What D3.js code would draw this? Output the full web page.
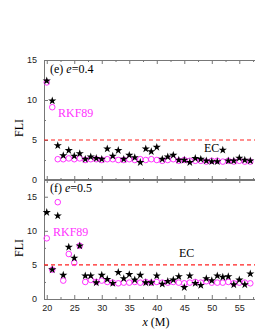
<!DOCTYPE html>
<html>
<head>
<meta charset="utf-8">
<script src="https://cdn.jsdelivr.net/npm/d3@7"></script>
<style>
  body { margin: 0; background: #fff; }
  .axis path, .axis line { stroke: #777; }
  .axis text { font-family: "Liberation Sans", Arial, sans-serif; font-size: 9px; fill: #222; }
  .lbl { font-family: "Liberation Serif", "Times New Roman", serif; }
</style>
</head>
<body>
<svg id="chart"></svg>
<script>
// mass values (x axis), 20..57
var xs = d3.range(20, 58);

// panel (e) e=0.4
var ecE = [12.4, 9.9, 4.3, 3.05, 3.7, 3.0, 3.3, 2.6, 2.9, 2.7, 2.6, 3.9, 3.0, 3.7, 2.6,
  3.1, 2.8, 2.2, 3.9, 3.55, 4.1, 2.6, 2.9, 3.1, 2.5, 2.5, 2.2, 2.7, 2.6, 2.4, 2.3,
  2.3, 3.75, 2.4, 2.4, 2.75, 2.5, 2.4];
var rkfE = [12.2, 9.1, 2.6, 2.6, 2.7, 2.6, 2.7, 2.5, 2.6, 2.6, 2.5, 2.6, 2.6, 2.5, 2.5,
  2.6, 2.5, 2.6, 2.5, 2.6, 2.5, 2.4, 2.5, 2.6, 2.4, 2.5, 2.4, 2.4, 2.4, 2.3, 2.4,
  2.4, 2.3, 2.4, 2.3, 2.4, 2.3, 2.3];

// panel (f) e=0.5
var ecF = [12.7, 4.3, 12.2, 3.5, 7.6, 6.0, 7.8, 3.4, 3.4, 2.4, 3.5, 2.9, 2.3, 3.9, 3.0,
  3.6, 2.8, 3.5, 2.4, 2.4, 3.4, 2.2, 2.6, 2.8, 3.3, 1.7, 3.4, 2.3, 2.0, 3.0, 2.7,
  3.4, 3.2, 3.3, 2.1, 2.8, 2.1, 3.7];
var rkfF = [8.9, 4.3, 14.2, 2.7, 6.6, 5.3, 7.8, 2.5, 2.8, 2.5, 2.7, 2.5, 2.4, 2.3, 2.4,
  2.4, 2.5, 2.4, 2.5, 2.4, 2.5, 2.4, 2.4, 2.5, 2.4, 2.3, 2.4, 2.5, 2.4, 2.6, 2.4,
  2.4, 2.4, 2.5, 2.3, 2.4, 2.4, 2.3];

var xTicks = [20, 25, 30, 35, 40, 45, 50, 55];
var ecLevel = 5;

var w = 255, h = 330;
var svg = d3.select("#chart").attr("width", w).attr("height", h);

var xScale = d3.scaleLinear().domain([19.5, 58]).range([44, 255.8]);

var panels = [
  {tag: "(e) ", e: "0.4", ec: ecE, rkf: rkfE, top: 60, bottom: 180, ymax: 15,
   yTicks: [0, 5, 10, 15], tagY: 73, rkfPos: [58, 117], ecPos: [204, 152], fliY: 128},
  {tag: "(f) ", e: "0.5", ec: ecF, rkf: rkfF, top: 179, bottom: 299, ymax: 17.6,
   yTicks: [0, 5, 10, 15], tagY: 192, rkfPos: [53, 236], ecPos: [179, 257], fliY: 248}
];

panels.forEach(function(p, i) {
  var yScale = d3.scaleLinear().domain([0, p.ymax]).range([p.bottom, p.top]);
  var g = svg.append("g");

  // minor / major ticks, all pointing inward
  var minorX = d3.range(20, 58.1, 2.5).filter(function(v) { return v % 5 != 0; });
  var minorY = d3.range(2.5, p.ymax, 5);

  g.append("g").attr("class", "axis")
    .attr("transform", "translate(0," + p.bottom + ")")
    .call(d3.axisBottom(xScale).tickValues(xTicks).tickSizeInner(-4).tickSizeOuter(0).tickPadding(6)
      .tickFormat(i == 1 ? d3.format("d") : ""));
  g.append("g").attr("class", "axis")
    .attr("transform", "translate(0," + p.bottom + ")")
    .call(d3.axisBottom(xScale).tickValues(minorX).tickSize(-2).tickFormat(""))
    .select(".domain").remove();
  g.append("g").attr("class", "axis")
    .attr("transform", "translate(0," + p.top + ")")
    .call(d3.axisTop(xScale).tickValues(xTicks).tickSizeInner(-4).tickSizeOuter(0).tickFormat(""));
  g.append("g").attr("class", "axis")
    .attr("transform", "translate(0," + p.top + ")")
    .call(d3.axisTop(xScale).tickValues(minorX).tickSize(-2).tickFormat(""))
    .select(".domain").remove();

  g.append("g").attr("class", "axis")
    .attr("transform", "translate(44,0)")
    .call(d3.axisLeft(yScale).tickValues(p.yTicks).tickSizeInner(-4).tickSizeOuter(0).tickPadding(7));
  g.append("g").attr("class", "axis")
    .attr("transform", "translate(44,0)")
    .call(d3.axisLeft(yScale).tickValues(minorY).tickSize(-2).tickFormat(""))
    .select(".domain").remove();

  // EC threshold
  g.append("line")
    .attr("x1", 44).attr("x2", w)
    .attr("y1", yScale(ecLevel)).attr("y2", yScale(ecLevel))
    .attr("stroke", "#ff2020").attr("stroke-width", 1.2)
    .attr("stroke-dasharray", "4,3");

  // RKF89 circles
  g.selectAll("circle")
    .data(p.rkf)
    .enter()
    .append("circle")
    .attr("cx", function(d, k) { return xScale(xs[k]); })
    .attr("cy", function(d) { return yScale(d); })
    .attr("r", 2.8)
    .attr("fill", "none")
    .attr("stroke", "#ff33ff")
    .attr("stroke-width", 1);

  // EC stars
  var star = d3.symbol().type(d3.symbolStar).size(21);
  g.selectAll("path.star")
    .data(p.ec)
    .enter()
    .append("path")
    .attr("class", "star")
    .attr("d", star)
    .attr("transform", function(d, k) {
      return "translate(" + xScale(xs[k]) + "," + yScale(d) + ")";
    })
    .attr("fill", "#000");

  // labels
  var t = g.append("text").attr("class", "lbl")
    .attr("x", 50).attr("y", p.tagY).attr("font-size", 12);
  t.append("tspan").text(p.tag);
  t.append("tspan").attr("font-style", "italic").text("e");
  t.append("tspan").text("=" + p.e);

  g.append("text").attr("class", "lbl")
    .attr("x", p.rkfPos[0]).attr("y", p.rkfPos[1])
    .attr("font-size", 12).attr("fill", "#ff33ff")
    .text("RKF89");

  g.append("text").attr("class", "lbl")
    .attr("x", p.ecPos[0]).attr("y", p.ecPos[1])
    .attr("font-size", 12)
    .text("EC");

  g.append("text").attr("class", "lbl")
    .attr("transform", "translate(23," + p.fliY + ") rotate(-90)")
    .attr("text-anchor", "middle").attr("font-size", 12)
    .text("FLI");
});

// x axis title
var xt = svg.append("text").attr("class", "lbl")
  .attr("x", 156).attr("y", 326)
  .attr("text-anchor", "middle").attr("font-size", 12);
xt.append("tspan").attr("font-style", "italic").text("x");
xt.append("tspan").text(" (M)");
</script>
</body>
</html>
